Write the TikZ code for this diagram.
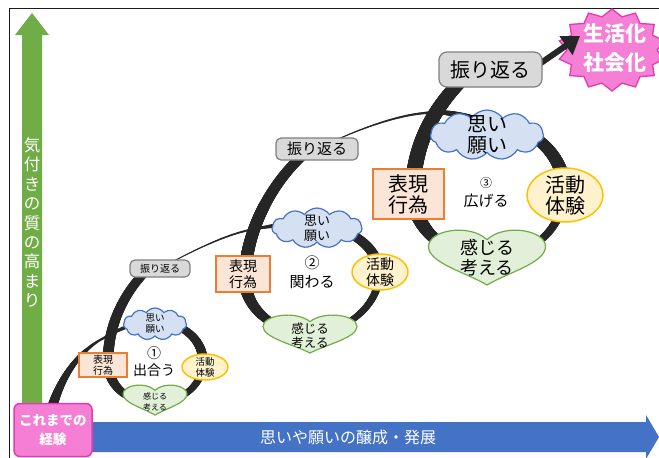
\documentclass[tikz,border=0pt]{standalone}
\usepackage{fontspec}
\setmainfont{Noto Sans CJK JP}
\usetikzlibrary{shapes.symbols,shapes.geometric,arrows.meta,decorations.markings,calc}
\pgfdeclarelayer{bg}
\pgfsetlayers{bg,main}
\definecolor{inkc}{HTML}{262626}
\definecolor{grayF}{HTML}{D9D9D9}
\definecolor{grayD}{HTML}{7F7F7F}
\definecolor{orD}{HTML}{ED7D31}
\definecolor{orF}{HTML}{FBE5D6}
\definecolor{blD}{HTML}{4472C4}
\definecolor{blF}{HTML}{D5E0F2}
\definecolor{yeD}{HTML}{FFC000}
\definecolor{yeF}{HTML}{FFF2CC}
\definecolor{grD}{HTML}{70AD47}
\definecolor{grF}{HTML}{E2F0D9}
\definecolor{pkF}{HTML}{F47FD4}
\definecolor{pkD}{HTML}{E03CB4}
\definecolor{frameC}{HTML}{1A1A1A}
\tikzset{
  brush/.style 2 args={decorate, decoration={markings,
    mark=between positions 0 and 1 step 0.6pt with {%
      \pgfmathsetmacro{\brushr}{#1+(#2-#1)*\pgfkeysvalueof{/pgf/decoration/mark info/distance from start}/\pgfdecoratedpathlength}%
      \fill[inkc] (0pt,0pt) circle[radius=\brushr pt];}}},
  fbox/.style={draw=grayD, fill=grayF, line width=1.2pt, rounded corners=5pt, inner sep=0pt, align=center},
  hbox/.style={draw=orD, fill=orF, line width=1.3pt, inner sep=0pt, align=center},
  cloudst/.style={cloud, cloud puffs=11, cloud puff arc=110, cloud ignores aspect, draw=blD, fill=blF, line width=1.2pt, inner sep=0pt},
  actst/.style={ellipse, draw=yeD, fill=yeF, line width=1.5pt, inner sep=0pt},
  heartst/.style={draw=grD, fill=grF, line width=1.2pt},
  txt/.style={inner sep=0pt, align=center, text=black},
}
\newcommand{\drawheart}[3]{%
  \path[heartst, shift={(#1)}, xscale=#2, yscale=#3]
    (0,1) .. controls (-0.35,0.55) and (-1,0.2) .. (-1,-0.4)
    .. controls (-1,-1.0) and (-0.3,-1.25) .. (0,-0.65)
    .. controls (0.3,-1.25) and (1,-1.0) .. (1,-0.4)
    .. controls (1,0.2) and (0.35,0.55) .. (0,1) -- cycle;}
\begin{document}
\begin{tikzpicture}[x=1pt,y=-1pt]
\useasboundingbox (0,0) rectangle (659,458);

% ---------- boxes "振り返る"
\node[fbox, minimum width=60pt, minimum height=17pt, font=\fontsize{10}{12}\selectfont] (f1) at (160,268.5) {振り返る};
\node[fbox, minimum width=82pt, minimum height=22pt, font=\fontsize{15}{17}\selectfont] (f2) at (317,149) {振り返る};
\node[fbox, minimum width=103pt, minimum height=35pt, rounded corners=8pt, font=\fontsize{20}{23}\selectfont] (f3) at (490.5,69.5) {振り返る};

% ---------- boxes "表現行為"
\node[hbox, minimum width=48pt, minimum height=24pt, font=\fontsize{10}{11.5}\selectfont] (h1) at (103,365) {表現\\行為};
\node[hbox, minimum width=54pt, minimum height=36pt, font=\fontsize{14}{16}\selectfont] (h2) at (243,274) {表現\\行為};
\node[hbox, minimum width=71pt, minimum height=50pt, font=\fontsize{20}{21}\selectfont] (h3) at (408.5,194) {表現\\行為};

% ---------- clouds "思い願い"
\node[cloudst, minimum width=63pt, minimum height=32pt] (o1) at (155,324) {};
\node[txt, font=\fontsize{9.5}{11}\selectfont] (ot1) at (o1) {思い\\願い};
\node[cloudst, minimum width=90pt, minimum height=40pt] (o2) at (317,228) {};
\node[txt, font=\fontsize{13}{15}\selectfont] (ot2) at (o2) {思い\\願い};
\node[cloudst, minimum width=113pt, minimum height=50pt] (o3) at (487,135) {};
\node[txt, font=\fontsize{20}{21}\selectfont] (ot3) at (o3) {思い\\願い};

% ---------- ellipses "活動体験"
\node[actst, minimum width=46pt, minimum height=26pt] (k1) at (205,367) {};
\node[txt, font=\fontsize{9.5}{11}\selectfont] (kt1) at (k1) {活動\\体験};
\node[actst, minimum width=56pt, minimum height=36pt] (k2) at (380,272) {};
\node[txt, font=\fontsize{14}{15.5}\selectfont] (kt2) at (k2) {活動\\体験};
\node[actst, minimum width=76pt, minimum height=54pt] (k3) at (565,195) {};
\node[txt, font=\fontsize{20}{21}\selectfont] (kt3) at (k3) {活動\\体験};

% ---------- hearts "感じる考える"
\coordinate (hc1) at (155,400);
\drawheart{hc1}{32}{15}
\node[txt, font=\fontsize{8}{11}\selectfont] (ct1) at (155,402) {感じる\\考える};
\coordinate (hc2) at (310,334);
\drawheart{hc2}{47}{19}
\node[txt, font=\fontsize{12.5}{13.5}\selectfont] (ct2) at (310,335.5) {感じる\\考える};
\coordinate (hc3) at (487,257.5);
\drawheart{hc3}{58.5}{27.5}
\node[txt, font=\fontsize{18}{20}\selectfont] (ct3) at (487,258) {感じる\\考える};

% ---------- centre labels
\node[txt, font=\fontsize{14}{17}\selectfont] (n1) at (154,361.5) {①\\出合う};
\node[txt, font=\fontsize{15}{19}\selectfont] (n2) at (312,272.5) {②\\関わる};
\node[txt, font=\fontsize{15}{19}\selectfont] (n3) at (486,192.5) {{\fontsize{12}{19}\selectfont ③}\\広げる};

% ---------- axes labels
\node[draw=pkD, fill=pkF, line width=1.5pt, rounded corners=6pt, minimum width=78pt, minimum height=53pt, inner sep=0pt, align=center, text=white, font=\bfseries\fontsize{13.5}{19}\selectfont] (start) at (53,430) {これまでの\\経験};
\node[txt, text=white, font=\fontsize{16.5}{19.4}\selectfont] (ylab) at (32,222.5) {気\\付\\き\\の\\質\\の\\高\\ま\\り};
\node[txt, text=white, font=\fontsize{16}{19}\selectfont] (xlab) at (348,437) {思いや願いの醸成・発展};
\node[txt, text=white, font=\bfseries\fontsize{21}{29}\selectfont] (goal) at (615,48) {生活化\\社会化};

\begin{pgfonlayer}{bg}
  \fill[white] (0,0) rectangle (659,458);
  \draw[frameC, line width=1.5pt] (9.5,458) -- (9.5,8.5) -- (659,8.5);
  \fill[grD] (22,418) -- (22,35) -- (15,35) -- (32,13) -- (49,35) -- (42,35) -- (42,418) -- cycle;
  \fill[blD] (60,422) -- (646,422) -- (646,415) -- (659,437) -- (646,459) -- (646,452) -- (60,452) -- cycle;

  \coordinate (s0) at (47,428);
  \coordinate (a1) at (100,340);
  \coordinate (T1) at (150,322);
  \coordinate (R1) at (203,362);
  \coordinate (B1) at (155,403);
  \coordinate (L1) at (108,362);
  \coordinate (F1) at (145,272);
  \coordinate (g1) at (255,229);
  \coordinate (T2) at (300,224);
  \coordinate (R2) at (379,274);
  \coordinate (B2) at (311,333);
  \coordinate (L2) at (245,278);
  \coordinate (F2) at (302,156);
  \coordinate (g2) at (425,113);
  \coordinate (T3) at (475,120);
  \coordinate (R3) at (564,190);
  \coordinate (B3) at (488,258);
  \coordinate (L3) at (413,192);
  \coordinate (F3) at (462,80);

  % loop 1
  \path[brush={6}{1.2}] (s0) .. controls (55,385) and (75,355) .. (a1);
  \path[brush={1.2}{2.5}] (a1) .. controls (110,335) and (125,324) .. (T1);
  \path[brush={3}{5}] (T1) .. controls (180,320) and (203,338) .. (R1);
  \path[brush={4}{2.5}] (R1) .. controls (203,386) and (180,403) .. (B1);
  \path[brush={2.5}{5.5}] (B1) .. controls (128,403) and (108,386) .. (L1);
  \path[brush={5.5}{4.5}] (L1) .. controls (108,330) and (120,298) .. (F1);
  % loop 2
  \path[brush={0.5}{1.1}] (f1.center) .. controls (190,252) and (228,233) .. (g1);
  \path[brush={1.1}{3.5}] (g1) .. controls (270,226) and (285,224) .. (T2);
  \path[brush={3.5}{5.5}] (T2) .. controls (345,222) and (379,245) .. (R2);
  \path[brush={4}{2.5}] (R2) .. controls (379,306) and (345,333) .. (B2);
  \path[brush={2.5}{6.5}] (B2) .. controls (275,333) and (245,310) .. (L2);
  \path[brush={6.5}{5}] (L2) .. controls (245,240) and (265,190) .. (F2);
  % loop 3
  \path[brush={0.5}{1.2}] (f2.center) .. controls (345,135) and (390,116) .. (g2);
  \path[brush={1.2}{4}] (g2) .. controls (440,111) and (455,113) .. (T3);
  \path[brush={4}{7}] (T3) .. controls (525,120) and (564,150) .. (R3);
  \path[brush={4.5}{3}] (R3) .. controls (564,230) and (530,258) .. (B3);
  \path[brush={3}{8}] (B3) .. controls (445,258) and (413,228) .. (L3);
  \path[brush={8}{6.5}] (L3) .. controls (413,150) and (430,112) .. (F3);

  % starburst
  \draw[pkD, fill=pkF, line width=1.3pt] plot[samples at={0,...,27}, variable=\k]
     ({612+ifthenelse(mod(\k,2)==0,54,45)*sin(\k*180/14)}, {50-ifthenelse(mod(\k,2)==0,41,34)*cos(\k*180/14)}) -- cycle;
  \coordinate (gtip) at (580,36);
  \draw[inkc, line width=6pt, -{Triangle[length=17pt,width=22pt]}] ($(f3.east)+(-6,-3.5)$) -- (gtip);
\end{pgfonlayer}
\end{tikzpicture}
\end{document}
